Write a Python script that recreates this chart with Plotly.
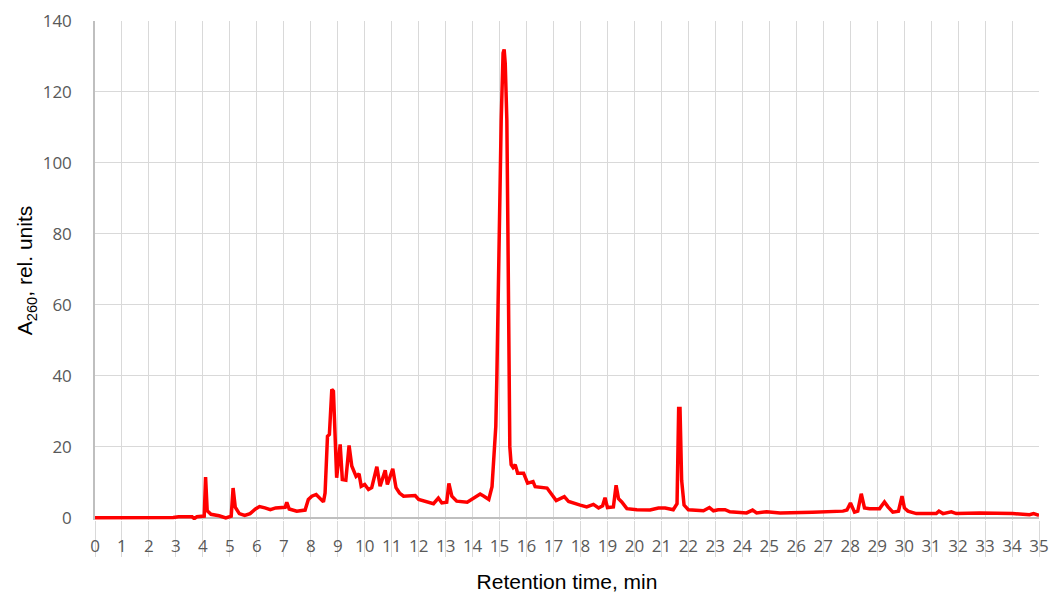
import plotly.graph_objects as go

time_min = [0, 1, 2, 2.9, 3.1, 3.6, 3.68, 3.78, 4.05, 4.1, 4.16, 4.3, 4.6, 4.85, 5.05, 5.12, 5.2,
            5.35, 5.55, 5.75, 5.95, 6.1, 6.3, 6.5, 6.7, 6.86, 7.05, 7.11, 7.2, 7.48, 7.79, 7.91,
            8.04, 8.2, 8.32, 8.47, 8.53, 8.62, 8.69, 8.78, 8.84, 8.9, 8.96, 9.09, 9.17, 9.3, 9.42,
            9.52, 9.68, 9.79, 9.87, 10.0, 10.14, 10.26, 10.45, 10.57, 10.76, 10.84, 11.04, 11.16,
            11.29, 11.44, 11.87, 12.0, 12.3, 12.55, 12.73, 12.86, 13.04, 13.12, 13.23, 13.41, 13.8,
            14.05, 14.28, 14.42, 14.6, 14.72, 14.8, 14.86, 14.9, 14.98, 15.06, 15.13, 15.17, 15.21,
            15.27, 15.31, 15.35, 15.38, 15.43, 15.5, 15.58, 15.67, 15.89, 16.04, 16.24, 16.32,
            16.76, 16.94, 17.1, 17.4, 17.56, 17.99, 18.23, 18.48, 18.67, 18.82, 18.91, 19.0, 19.22,
            19.32, 19.41, 19.53, 19.72, 20.09, 20.58, 20.89, 21.14, 21.44, 21.58, 21.64, 21.69,
            21.75, 21.84, 22.0, 22.56, 22.78, 22.93, 23.11, 23.36, 23.54, 24.16, 24.38, 24.53,
            24.9, 25.4, 26.6, 27.73, 27.88, 28.01, 28.16, 28.28, 28.41, 28.53, 28.72, 29.09, 29.27,
            29.4, 29.58, 29.79, 29.92, 30.01, 30.14, 30.26, 30.45, 31.19, 31.29, 31.44, 31.75,
            31.93, 32.8, 34.03, 34.65, 34.8, 35.0]

a260 = [0, 0, 0, 0.1, 0.3, 0.3, -0.2, 0.3, 0.5, 11.5, 2.0, 1.0, 0.6, 0.0, 0.5, 8.4, 3.0,
        1.2, 0.7, 1.2, 2.5, 3.2, 2.8, 2.3, 2.8, 2.8, 3.0, 4.4, 2.5, 1.9, 2.2, 5.2,
        6.1, 6.6, 5.6, 4.5, 7.0, 23.0, 23.5, 36.2, 35.7, 21.0, 11.3, 20.7, 10.8, 10.6, 20.4,
        14.6, 11.7, 12.4, 8.9, 9.4, 8.0, 8.5, 14.4, 8.9, 13.4, 9.4, 13.8, 8.5,
        7.0, 6.1, 6.3, 5.2, 4.5, 4.0, 5.6, 4.2, 4.4, 9.7, 6.1, 4.7, 4.4,
        5.6, 6.7, 6.1, 5.2, 8.8, 18.2, 25.8, 39.8, 80.0, 112.0, 131.0, 132.0, 128.0,
        112.0, 80.0, 39.8, 20.0, 15.0, 14.2, 15.0, 12.6, 12.6, 9.8, 10.2, 8.8,
        8.4, 6.5, 4.9, 6.0, 4.6, 3.6, 3.1, 3.8, 2.8, 3.4, 5.7, 2.9, 3.1,
        9.2, 5.4, 4.5, 2.6, 2.3, 2.2, 2.8, 2.8, 2.3, 4.0, 30.8, 30.8,
        10.6, 3.6, 2.3, 2.0, 2.9, 2.0, 2.3, 2.3, 1.7, 1.4, 2.2, 1.4,
        1.7, 1.4, 1.6, 1.9, 2.2, 4.2, 1.6, 1.9, 6.8, 2.8, 2.6, 2.6, 4.5,
        3.1, 1.6, 1.9, 6.1, 2.8, 1.9, 1.7, 1.2, 1.2, 1.9, 1.2, 1.7,
        1.2, 1.4, 1.2, 0.9, 1.2, 0.75]

x_ticks = list(range(0, 36))
y_ticks = list(range(0, 141, 20))

fig = go.Figure()
fig.add_trace(go.Scatter(x=time_min, y=a260, mode="lines",
                         line=dict(color="#ff0000", width=3.5), showlegend=False,
                         hoverinfo="x+y"))

tick_font = dict(family="Open Sans, sans-serif", size=17, color="#595959")
title_font = dict(family="Liberation Sans, Arial, sans-serif", size=21, color="#000000")

fig.update_layout(
    width=1053, height=595,
    margin=dict(l=95, r=14, t=21, b=75),
    paper_bgcolor="white", plot_bgcolor="white",
    xaxis=dict(range=[0, 35], tickmode="array", tickvals=x_ticks,
               ticktext=[str(v) for v in x_ticks],
               showgrid=True, gridcolor="#d9d9d9", gridwidth=1,
               ticks="outside", ticklen=36, tickcolor="#d9d9d9", tickwidth=1,
               ticklabelstandoff=-25, automargin=False,
               showline=False, zeroline=False, tickfont=tick_font,
               title=dict(text="Retention time, min", font=title_font, standoff=17)),
    yaxis=dict(range=[-0.6, 140], tickmode="array", tickvals=y_ticks,
               ticktext=[str(v) for v in y_ticks],
               showgrid=True, gridcolor="#d9d9d9", gridwidth=1,
               zeroline=True, zerolinecolor="#bfbfbf", zerolinewidth=1.5,
               showline=True, linecolor="#bfbfbf", linewidth=1.5,
               ticks="", ticklabelstandoff=18, automargin=False, tickfont=tick_font,
               title=dict(text="A<sub>260</sub>, rel. units", font=title_font, standoff=4)),
)

fig.write_html("out.html", config={"displayModeBar": False},
               post_script="document.body.style.margin='0';document.body.style.overflow='hidden';")
